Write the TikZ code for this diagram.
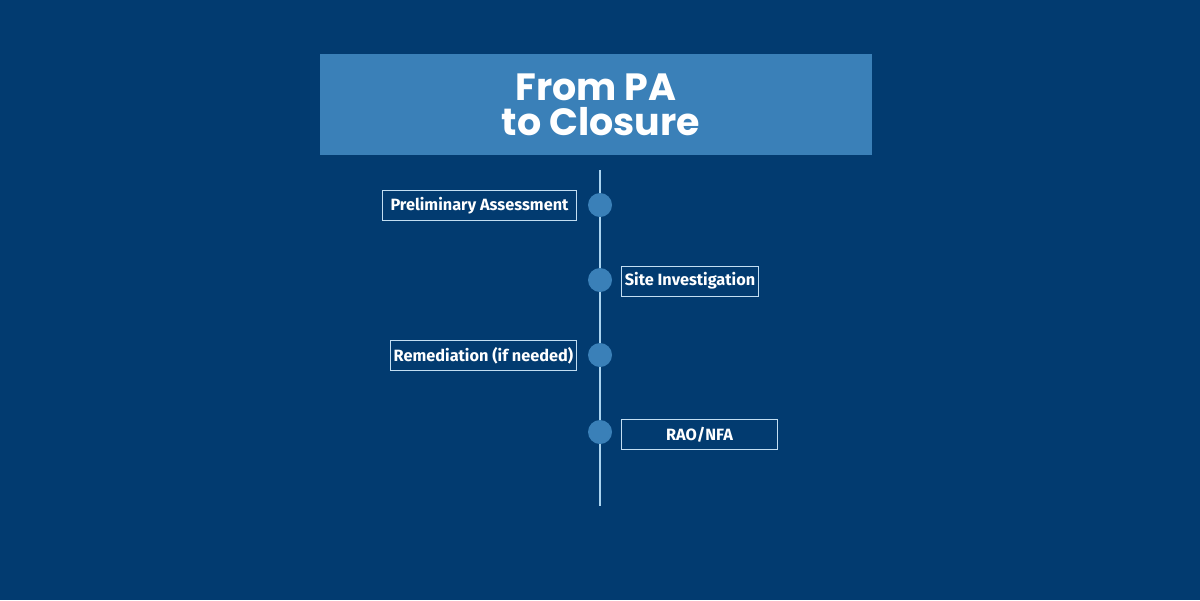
\documentclass[tikz,border=0pt]{standalone}
\usepackage{fontspec}
\setmainfont{Fira Sans}
\newfontfamily\titlefont{Poppins}
\definecolor{bgblue}{RGB}{2,59,112}
\definecolor{boxblue}{RGB}{58,128,184}
\definecolor{lineblue}{RGB}{170,212,240}
\definecolor{edgeblue}{RGB}{195,222,242}

\begin{document}
\begin{tikzpicture}[x=0.025cm,y=-0.025cm,
    stage/.style={draw=edgeblue, line width=0.7pt, text=white, inner sep=0pt,
        minimum height=0.75cm, font=\bfseries\fontsize{11.6}{13}\selectfont},
    dot/.style={circle, fill=boxblue, minimum size=0.6cm, inner sep=0pt}]
    \fill [bgblue] (0,0) rectangle (1200,600);
    \node (title) [fill=boxblue, minimum width=13.8cm, minimum height=2.525cm,
        text=white, align=center, font=\titlefont\bfseries\fontsize{27}{25}\selectfont]
        at (596,104.5) {From PA\\ \hspace*{0.25cm}to Closure};
    \coordinate (line_top) at (600,170);
    \coordinate (line_end) at (600,506);
    \draw [lineblue, line width=1.5pt] (line_top) to (line_end);
    \node (pa_dot) [dot] at (600,205) {};
    \node (si_dot) [dot] at (600,280) {};
    \node (rem_dot) [dot] at (600,355) {};
    \node (rao_dot) [dot] at (600,432) {};
    \node (pa) [stage, minimum width=4.85cm, anchor=east] at (577,205.5) {Preliminary Assessment};
    \node (si) [stage, minimum width=3.425cm, anchor=west] at (621,281) {Site Investigation};
    \node (rem) [stage, minimum width=4.65cm, anchor=east] at (577,355.5) {Remediation (if needed)};
    \node (rao) [stage, minimum width=3.9cm, anchor=west] at (621,434.5) {RAO/NFA};
\end{tikzpicture}
\end{document}
